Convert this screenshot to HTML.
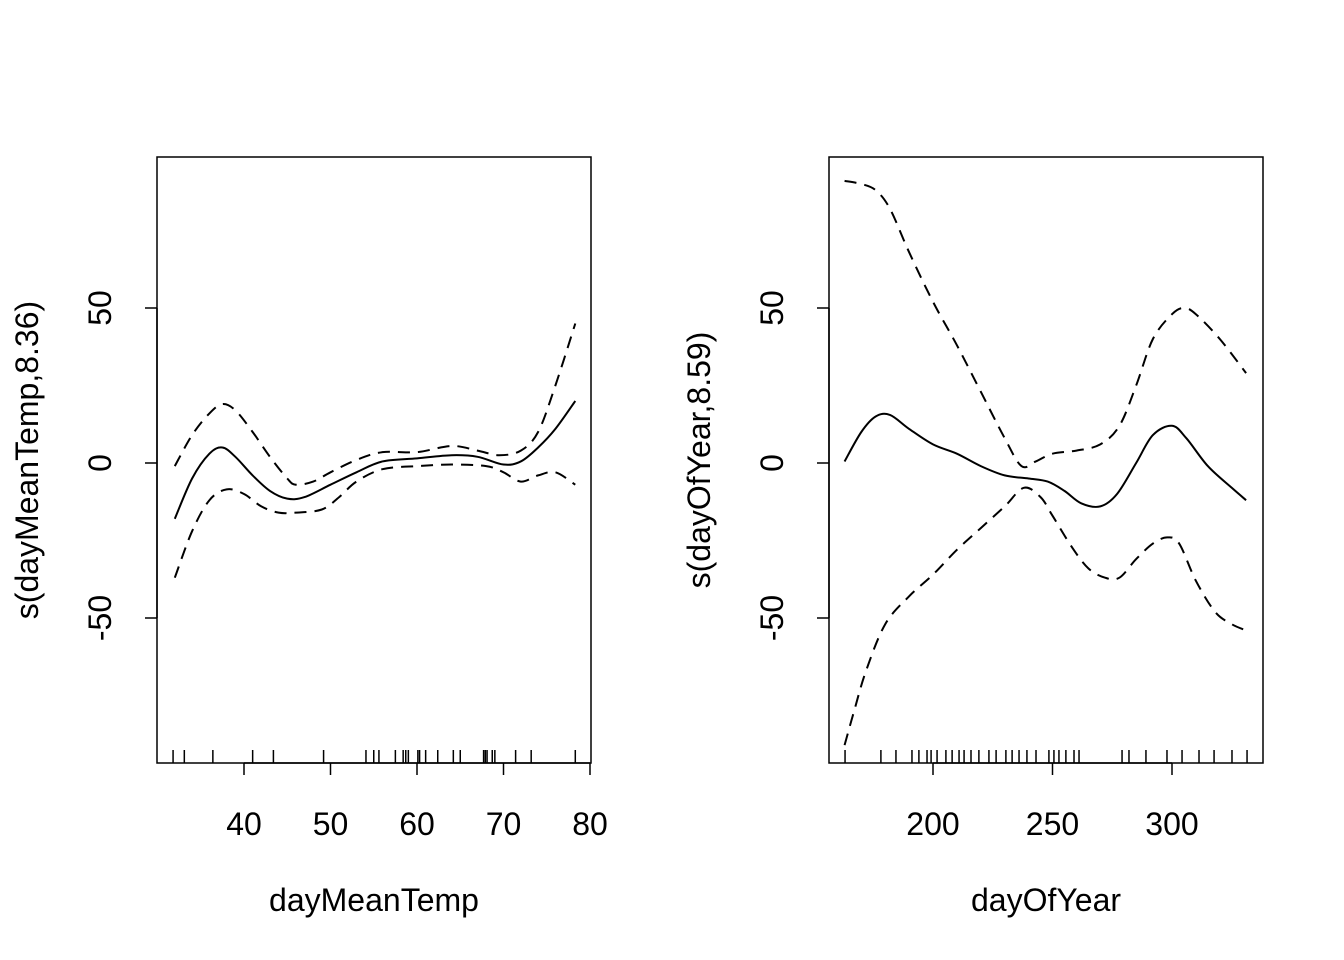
<!DOCTYPE html>
<html><head><meta charset="utf-8"><style>
html,body{margin:0;padding:0;background:#fff;}
svg{display:block;font-family:"Liberation Sans",Arial,sans-serif;}
</style></head><body>
<svg id="c" width="1344" height="960" viewBox="0 0 1344 960"></svg>
<script>
// Panel 1: dayMeanTemp
const p1X=[32,34,36,37.5,39,41,43,45,47,50,53,56,60,64,67,70,72,74,76,78.3];
const p1Fit=[-18,-5,3,5,2,-4,-9,-11.5,-11,-7,-3,0.5,1.5,2.5,2,-0.5,0.5,5,11,20];
const p1UpX=[32,34,36,37.5,39,41,43,45,46,48,50,53,56,60,64,67,69.5,72,74,76,78.3];
const p1Up=[-1,9,16,19,17,10,2,-5,-7,-6,-3,1,3.5,3.5,5.5,4,2.5,4,10,25,45];
const p1LoX=[32,34,36,38,40,42,44,46,49,51,53,56,60,64,68,70,72,74,76,78.3];
const p1Lo=[-37,-22,-12,-8.5,-10,-14,-16,-16,-15,-11,-6,-2,-1,-0.5,-1,-3,-6,-4,-3,-7];
const p1Rug=[31.8,33.1,36.4,41.0,43.4,49.2,54.1,55.0,55.6,57.5,58.4,58.7,59.0,60.1,60.3,61.0,62.4,64.2,65.0,67.7,67.9,68.1,68.7,69.0,71.4,73.2,78.3];
const p1XTicks=[40,50,60,70,80];
// Panel 2: dayOfYear
const p2X=[163,170,176,182,190,200,210,220,230,240,248,255,262,270,277,285,292,300,306,315,325,331];
const p2Fit=[0.5,10,15,15.5,11,6,3,-1,-4,-5,-6,-9,-13,-14,-10,0,9,12,8,-1,-8,-12];
const p2UpX=[163,170,176,182,190,200,210,220,230,237,243,250,260,270,278,285,292,300,305,310,320,331];
const p2Up=[91,90,88,82,68,52,38,23,8,-1,0.5,3,4,6,12,25,40,48,50,48,40,29];
const p2LoX=[163,167,172,180,190,200,210,220,230,238,245,250,258,265,272,278,285,292,298,303,310,318,325,331];
const p2Lo=[-91,-80,-67,-52,-43,-36,-28,-21,-14,-8,-11,-17,-27,-34,-37,-37,-31,-26,-24,-26,-38,-48,-52,-54];
const p2Rug=[163.2,178.2,184.5,191.2,194.1,197.5,199.2,201.7,205.4,208,210.9,213,215.9,219.2,223.4,226.4,230.5,233.1,236,239.3,243.1,248.5,250.6,252.7,255.6,259,261.1,279.1,282,289.1,297.9,304.2,311.3,317.6,325.1,331.4];
const p2XTicks=[200,250,300];
const yTicks=[-50,0,50];

const NS="http://www.w3.org/2000/svg";
const svg=document.getElementById('c');
function mk(tag,attrs,parent){const e=document.createElementNS(NS,tag);for(const k in attrs)e.setAttribute(k,attrs[k]);(parent||svg).appendChild(e);return e;}
function yS(v){return 463-v*3.1;}
function pathFrom(xs,ys,sx){
  const pts=xs.map((x,i)=>[sx(x),yS(ys[i])]);
  let d='M'+pts[0][0]+','+pts[0][1];
  for(let i=0;i<pts.length-1;i++){
    const p0=pts[Math.max(0,i-1)],p1=pts[i],p2=pts[i+1],p3=pts[Math.min(pts.length-1,i+2)];
    const c1=[p1[0]+(p2[0]-p0[0])/6,p1[1]+(p2[1]-p0[1])/6];
    const c2=[p2[0]-(p3[0]-p1[0])/6,p2[1]-(p3[1]-p1[1])/6];
    d+=' C'+c1[0]+','+c1[1]+' '+c2[0]+','+c2[1]+' '+p2[0]+','+p2[1];
  }
  return d;
}
const FS=32;
function panel(name,L,R,sx,fx,fy,ux,uy,lx,ly,rug,xt,xlab,ylab){
  const g=mk('g',{});
  
  
  const box=mk('rect',{x:L,y:157,width:R-L,height:606,fill:'none',stroke:'#000','stroke-width':1.5},g);
  
  const xa=mk('line',{x1:sx(xt[0]),x2:sx(xt[xt.length-1]),y1:763,y2:763,stroke:'#000','stroke-width':1.5},g);
  
  xt.forEach(v=>{
    const t=mk('line',{x1:sx(v),x2:sx(v),y1:763,y2:775,stroke:'#000','stroke-width':1.5},g);
    
    const tx=mk('text',{x:sx(v),y:835,'font-size':FS,'text-anchor':'middle'},g);tx.textContent=v;
    
  });
  const ya=mk('line',{x1:L,x2:L,y1:yS(-50),y2:yS(50),stroke:'#000','stroke-width':1.5},g);
  
  yTicks.forEach(v=>{
    const t=mk('line',{x1:L-12,x2:L,y1:yS(v),y2:yS(v),stroke:'#000','stroke-width':1.5},g);
    
    const tx=mk('text',{x:0,y:0,'font-size':FS,'text-anchor':'middle',transform:'translate('+(L-46)+','+yS(v)+') rotate(-90)'},g);tx.textContent=v;
    
  });
  const xl=mk('text',{x:(L+R)/2,y:911,'font-size':FS,'text-anchor':'middle'},g);xl.textContent=xlab;
  
  const yl=mk('text',{x:0,y:0,'font-size':FS,'text-anchor':'middle',transform:'translate('+(L-119)+',460) rotate(-90)'},g);yl.textContent=ylab;
  
  rug.forEach(v=>{
    const r=mk('line',{x1:sx(v),x2:sx(v),y1:750,y2:763,stroke:'#000','stroke-width':1.5},g);
    
  });
  const f=mk('path',{d:pathFrom(fx,fy,sx),fill:'none',stroke:'#000','stroke-width':2},g);
  
  const u=mk('path',{d:pathFrom(ux,uy,sx),fill:'none',stroke:'#000','stroke-width':2,'stroke-dasharray':'12,8'},g);
  
  const lo=mk('path',{d:pathFrom(lx,ly,sx),fill:'none',stroke:'#000','stroke-width':2,'stroke-dasharray':'12,8'},g);
  
}
panel('day-mean-temp',157,591,v=>244+(v-40)*8.65,p1X,p1Fit,p1UpX,p1Up,p1LoX,p1Lo,p1Rug,p1XTicks,'dayMeanTemp','s(dayMeanTemp,8.36)');
panel('day-of-year',829,1263,v=>933+(v-200)*2.39,p2X,p2Fit,p2UpX,p2Up,p2LoX,p2Lo,p2Rug,p2XTicks,'dayOfYear','s(dayOfYear,8.59)');
</script>
</body></html>
